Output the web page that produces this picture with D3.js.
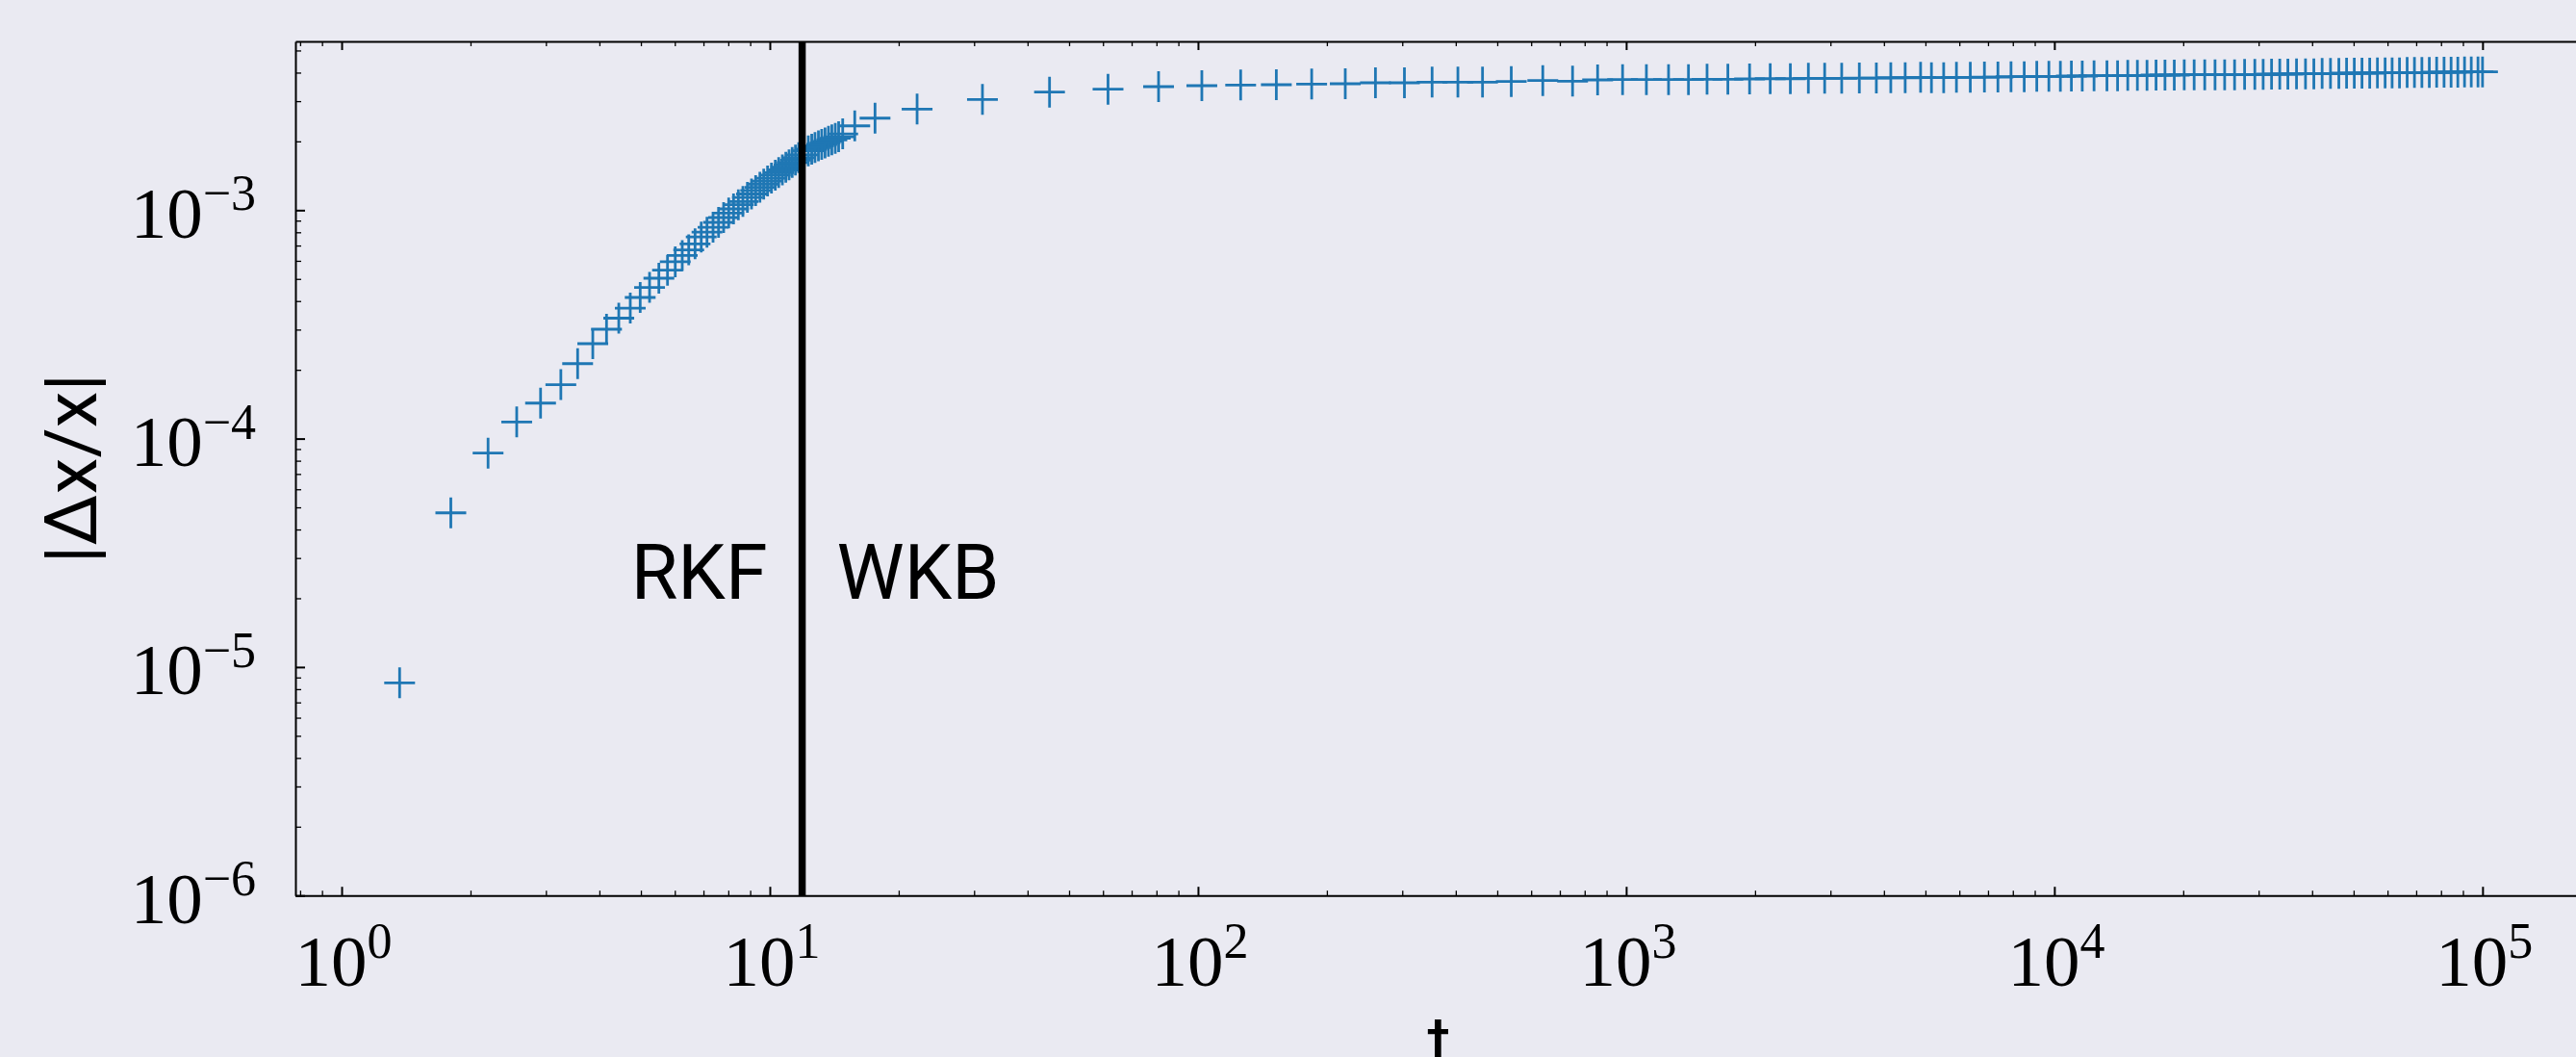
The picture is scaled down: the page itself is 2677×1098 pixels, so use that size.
<!DOCTYPE html>
<html>
<head>
<meta charset="utf-8">
<script src="https://cdn.jsdelivr.net/npm/d3@7"></script>
<style>
  html, body { margin: 0; padding: 0; background: #eaeaf2; overflow: hidden; }
  .tickLbl { font-family: "Liberation Serif", "DejaVu Serif", serif; fill: #000; }
  .sansLbl { font-family: Roboto, "Liberation Sans", sans-serif; fill: #000; }
</style>
</head>
<body>
<div id="chart"></div>
<script>
// step times (RKF steps first, then WKB steps)
var t_vals = [
  1.366, 1.799, 2.198, 2.564, 2.915, 3.251, 3.558, 3.860, 4.156, 4.439,
  4.722, 4.981, 5.238, 5.507, 5.769, 6.014, 6.245, 6.466, 6.690, 6.916,
  7.134, 7.370, 7.591, 7.801, 8.017, 8.229, 8.444, 8.653, 8.865, 9.064,
  9.268, 9.482, 9.679, 9.881, 10.09, 10.30, 10.49, 10.70, 10.90, 11.09,
  11.28, 11.48, 11.68, 11.92,
  12.30, 12.53, 12.75, 12.99, 13.22, 13.46, 13.71, 13.96, 14.22, 14.48,
  14.80, 15.79, 17.61, 22.08,
  31.38, 45.01, 61.65, 80.90, 102.1, 125.8, 152.4, 184.3, 220.8, 259.7,
  303.5, 352.2, 404.6, 461.9, 539.1, 638.7, 749.6, 857.7, 980.9, 1115,
  1256, 1398, 1545, 1728, 1942, 2170, 2418, 2664, 2908, 3187,
  3504, 3840, 4150, 4484, 4871,
  5164, 5515, 5907, 6364, 6866, 7383, 7922, 8505, 9099, 9710,
  10330, 10960, 11620, 12380, 13270, 14050, 14840, 15630, 16460, 17280,
  18130, 19060, 20110, 21210, 22450, 23730, 24990, 26360,
  27820, 29390, 30740, 32160, 33610, 35110, 36780, 38600, 40370, 42210,
  44150, 46180, 48140, 50180, 52300, 54520, 56830, 59230, 61500, 63990,
  66680, 69350, 72180, 75120, 78140, 81320, 84450, 87560, 90780, 94120,
  97590, 100000
];

// |dx/x| at each step
var rel_err = [
  8.53e-6, 4.73e-5, 8.64e-5, 1.183e-4, 1.430e-4, 1.723e-4, 2.129e-4, 2.603e-4, 3.011e-4, 3.367e-4,
  3.727e-4, 4.147e-4, 4.588e-4, 5.036e-4, 5.458e-4, 5.942e-4, 6.332e-4, 6.699e-4, 7.119e-4, 7.628e-4,
  8.007e-4, 8.414e-4, 8.841e-4, 9.281e-4, 9.714e-4, 1.013e-3, 1.056e-3, 1.091e-3, 1.137e-3, 1.177e-3,
  1.219e-3, 1.259e-3, 1.300e-3, 1.341e-3, 1.381e-3, 1.423e-3, 1.460e-3, 1.500e-3, 1.541e-3, 1.578e-3,
  1.617e-3, 1.656e-3, 1.697e-3, 1.747e-3,
  1.818e-3, 1.848e-3, 1.879e-3, 1.910e-3, 1.940e-3, 1.971e-3, 2.001e-3, 2.032e-3, 2.064e-3, 2.096e-3,
  2.158e-3, 2.339e-3, 2.528e-3, 2.770e-3,
  3.052e-3, 3.286e-3, 3.383e-3, 3.473e-3, 3.507e-3, 3.530e-3, 3.541e-3, 3.565e-3, 3.575e-3, 3.610e-3,
  3.610e-3, 3.635e-3, 3.635e-3, 3.635e-3, 3.656e-3, 3.692e-3, 3.671e-3, 3.717e-3, 3.728e-3, 3.728e-3,
  3.728e-3, 3.728e-3, 3.742e-3, 3.742e-3, 3.753e-3, 3.763e-3, 3.763e-3, 3.778e-3, 3.778e-3, 3.778e-3,
  3.789e-3, 3.789e-3, 3.800e-3, 3.800e-3, 3.814e-3,
  3.801e-3, 3.801e-3, 3.814e-3, 3.814e-3, 3.826e-3, 3.826e-3, 3.838e-3, 3.838e-3, 3.853e-3, 3.853e-3,
  3.853e-3, 3.864e-3, 3.864e-3, 3.875e-3, 3.875e-3, 3.875e-3, 3.890e-3, 3.890e-3, 3.890e-3, 3.902e-3,
  3.902e-3, 3.902e-3, 3.913e-3, 3.913e-3, 3.913e-3, 3.913e-3, 3.913e-3, 3.913e-3,
  3.929e-3, 3.929e-3, 3.929e-3, 3.940e-3, 3.940e-3, 3.940e-3, 3.952e-3, 3.952e-3, 3.952e-3, 3.967e-3,
  3.967e-3, 3.967e-3, 3.979e-3, 3.979e-3, 3.979e-3, 3.979e-3, 3.990e-3, 3.990e-3, 3.990e-3, 3.990e-3,
  4.006e-3, 4.006e-3, 4.006e-3, 4.006e-3, 4.018e-3, 4.018e-3, 4.018e-3, 4.018e-3, 4.030e-3, 4.030e-3,
  4.030e-3, 4.030e-3
];

var switch_t = 11.9;               // RKF -> WKB switch
var region_lbls = ["RKF", "WKB"];

var x_major = [1, 10, 100, 1000, 10000, 100000];
var x_tick_exp = ["0", "1", "2", "3", "4", "5"];
var y_major = [1e-6, 1e-5, 1e-4, 1e-3];
var y_tick_exp = ["\u22126", "\u22125", "\u22124", "\u22123"];
var minor_mult = [2, 3, 4, 5, 6, 7, 8, 9];

var x_label = "t";
var y_label = "|\u0394x/x|";

(function () {
  'use strict'

  var W = 2677, H = 1098;
  var plot = {top: 43, bottom: 930.2, left: 307, right: 2688};

  var x = d3.scaleLog().domain([0.78, 175000]).range([plot.left, plot.right]);
  var y = d3.scaleLog().domain([1e-6, 5.48e-3]).range([plot.bottom, plot.top]);

  // minor tick positions (decade multiples that fall inside the domain)
  function minorTicks(scale, decades){
    var out = [];
    var dom = scale.domain();
    decades.forEach(function(d){
      minor_mult.forEach(function(m){
        var v = m * d;
        if(v > dom[0] && v < dom[1]) out.push(v);
      });
    });
    return out;
  }
  var x_minor = minorTicks(x, [0.1, 1, 10, 100, 1000, 10000, 100000]);
  var y_minor = minorTicks(y, [1e-6, 1e-5, 1e-4, 1e-3]);

  var svg = d3.select("#chart").append("svg")
      .attr("width", W)
      .attr("height", H)
      .style("display", "block")
      .style("background", "#eaeaf2");

  // ---- data markers ----
  var pts = t_vals.map(function(t, i){ return {t: t, v: rel_err[i]}; });

  svg.append("g")
    .attr("class", "marks")
    .selectAll("path")
    .data(pts)
    .enter().append("path")
    .attr("transform", function(d){ return "translate(" + x(d.t) + "," + y(d.v) + ")"; })
    .attr("d", "M-16,0H16M0,-16V16")
    .attr("fill", "none")
    .attr("stroke", "#1f77b4")
    .attr("stroke-width", 2.8);

  // switch line
  svg.append("line")
    .attr("x1", x(switch_t)).attr("x2", x(switch_t))
    .attr("y1", plot.top).attr("y2", plot.bottom)
    .attr("stroke", "#000")
    .attr("stroke-width", 7.5);

  svg.append("text")
    .attr("class", "sansLbl")
    .attr("x", x(switch_t) - 36)
    .attr("y", 622)
    .attr("text-anchor", "end")
    .style("font-size", "79px")
    .text(region_lbls[0]);

  svg.append("text")
    .attr("class", "sansLbl")
    .attr("x", x(switch_t) + 36)
    .attr("y", 622)
    .attr("text-anchor", "start")
    .style("font-size", "79px")
    .text(region_lbls[1]);

  // ---- axes (ticks pointing inward) ----
  function styleAxis(g, w, keepDomain){
    g.selectAll(".tick line").attr("stroke", "#000").attr("stroke-width", w);
    if(keepDomain){
      g.select(".domain").attr("stroke", "#000").attr("stroke-width", 2);
    }else{
      g.select(".domain").remove();
    }
    g.selectAll(".tick text").remove();
  }

  svg.append("g")
    .attr("transform", "translate(0," + plot.bottom + ")")
    .call(d3.axisBottom(x).tickValues(x_minor).tickSize(-5).tickSizeOuter(0))
    .call(styleAxis, 1.3, false);
  svg.append("g")
    .attr("transform", "translate(0," + plot.bottom + ")")
    .call(d3.axisBottom(x).tickValues(x_major).tickSize(-9).tickSizeOuter(0))
    .call(styleAxis, 2, true);

  svg.append("g")
    .attr("transform", "translate(0," + plot.top + ")")
    .call(d3.axisTop(x).tickValues(x_minor).tickSize(-5).tickSizeOuter(0))
    .call(styleAxis, 1.3, false);
  svg.append("g")
    .attr("transform", "translate(0," + plot.top + ")")
    .call(d3.axisTop(x).tickValues(x_major).tickSize(-9).tickSizeOuter(0))
    .call(styleAxis, 2, true);

  svg.append("g")
    .attr("transform", "translate(" + plot.left + ",0)")
    .call(d3.axisLeft(y).tickValues(y_minor).tickSize(-6).tickSizeOuter(0))
    .call(styleAxis, 1.3, false);
  svg.append("g")
    .attr("transform", "translate(" + plot.left + ",0)")
    .call(d3.axisLeft(y).tickValues(y_major).tickSize(-10).tickSizeOuter(0))
    .call(styleAxis, 2, true);

  // ---- tick labels, 10^n ----
  svg.append("g")
    .selectAll("text")
    .data(x_major)
    .enter().append("text")
    .attr("class", "tickLbl")
    .attr("x", function(d){ return x(d) + 2; })
    .attr("y", 1024)
    .attr("text-anchor", "middle")
    .style("font-size", "75px")
    .each(function(d, i){
      var t = d3.select(this);
      t.append("tspan").text("10");
      t.append("tspan").attr("dy", -29).style("font-size", "52px").text(x_tick_exp[i]);
    });

  svg.append("g")
    .selectAll("text")
    .data(y_major)
    .enter().append("text")
    .attr("class", "tickLbl")
    .attr("x", 266)
    .attr("y", function(d){ return y(d) + 28.4; })
    .attr("text-anchor", "end")
    .style("font-size", "75px")
    .each(function(d, i){
      var t = d3.select(this);
      t.append("tspan").text("10");
      t.append("tspan").attr("dy", -28.4).style("font-size", "52px").text(y_tick_exp[i]);
    });

  // axis titles
  svg.append("text")
    .attr("class", "sansLbl")
    .attr("transform", "translate(100," + ((plot.top + plot.bottom) / 2) + ") rotate(-90)")
    .attr("text-anchor", "middle")
    .style("font-size", "76px")
    .text(y_label);

  // the reference crops this title at the bottom edge
  svg.append("text")
    .attr("class", "sansLbl")
    .attr("x", (plot.left + plot.right) / 2 - 2)
    .attr("y", 1108)
    .attr("text-anchor", "middle")
    .style("font-size", "74px")
    .text(x_label);

})()
</script>
</body>
</html>
